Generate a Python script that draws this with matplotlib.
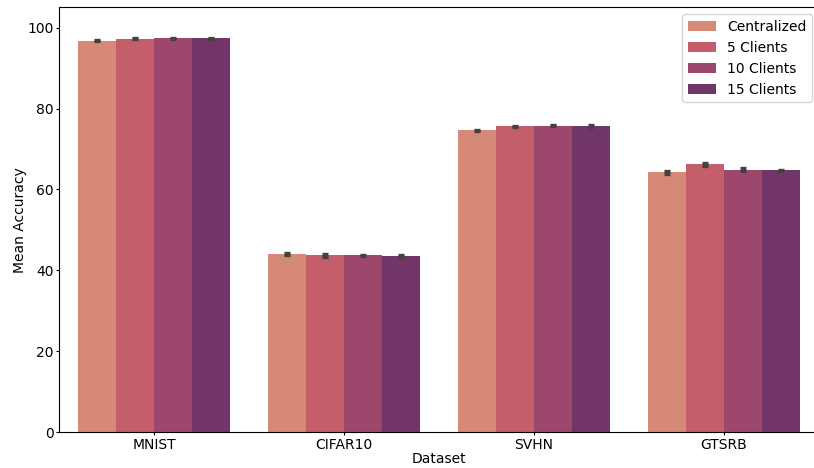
import matplotlib
matplotlib.use("Agg")
import matplotlib.pyplot as plt
import numpy as np

# data
datasets = ["MNIST", "CIFAR10", "SVHN", "GTSRB"]
setups = ["Centralized", "5 Clients", "10 Clients", "15 Clients"]

centralized = [96.8, 44.0, 74.6, 64.2]
clients_5 = [97.3, 43.7, 75.6, 66.2]
clients_10 = [97.4, 43.7, 75.8, 64.9]
clients_15 = [97.4, 43.5, 75.6, 64.7]

err_centralized = [0.12, 0.2, 0.2, 0.33]
err_5 = [0.12, 0.35, 0.2, 0.33]
err_10 = [0.1, 0.2, 0.2, 0.3]
err_15 = [0.1, 0.2, 0.25, 0.15]

colors = ["#d68976", "#c45e6b", "#9e476c", "#713667"]


def main():
    fig = plt.figure(figsize=(8.14, 4.68), dpi=100)
    # axes run a bit past the right edge, like the cropped original
    ax = fig.add_axes([0.0729, 0.0763, 0.933, 0.908])

    means = [centralized, clients_5, clients_10, clients_15]
    errs = [err_centralized, err_5, err_10, err_15]
    x = np.arange(len(datasets))
    width = 0.2
    offsets = [-1.5, -0.5, 0.5, 1.5]

    for vals, e, off, col, name in zip(means, errs, offsets, colors, setups):
        ax.bar(x + off * width, vals, width, color=col, label=name,
               yerr=e, capsize=2.3,
               error_kw=dict(ecolor="#424242", elinewidth=2.4, capthick=2.4))

    ax.set_xticks(x)
    ax.set_xticklabels(datasets)
    ax.set_xlim(-0.5, 3.5)
    ax.set_ylim(0, 105)
    ax.tick_params(axis="both", length=2.5, pad=1.5)
    ax.spines["right"].set_visible(False)
    ax.set_xlabel("Dataset", labelpad=0)
    ax.set_ylabel("Mean Accuracy", labelpad=0)
    ax.legend(loc="upper right")

    fig.savefig("out.png", dpi=100)


if __name__ == "__main__":
    main()
